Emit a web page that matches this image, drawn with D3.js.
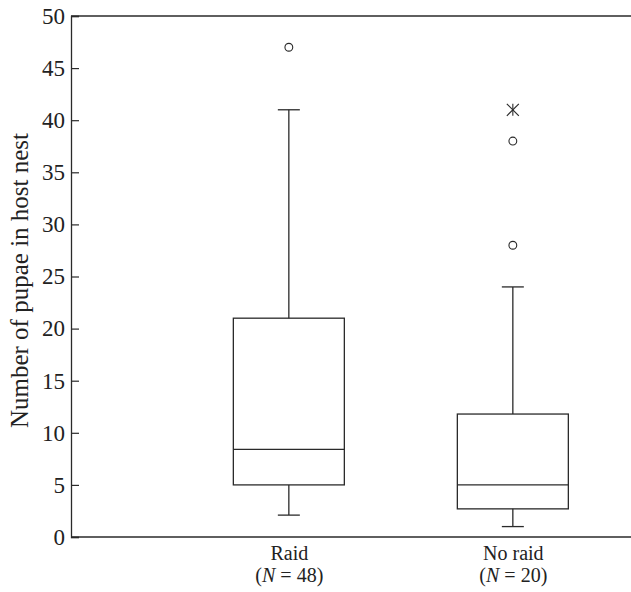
<!DOCTYPE html>
<html>
<head>
<meta charset="utf-8">
<script src="https://cdn.jsdelivr.net/npm/d3@7"></script>
<style>
  body { margin: 0; background: #fff; }
  svg { display: block; }
  text { font-family: "Liberation Serif", "DejaVu Serif", serif; fill: #222; }
</style>
</head>
<body>
<div id="chart"></div>
<script>
// data
const categories = ['Raid', 'No raid'];
const sampleSizes = [48, 20];
const whiskerLow = [2.1, 1];
const q1 = [5, 2.7];
const median = [8.4, 5];
const q3 = [21, 11.8];
const whiskerHigh = [41, 24];
// outliers: circles are mild, stars are extreme
const outlierGroup = ['Raid', 'No raid', 'No raid', 'No raid'];
const outlierValue = [47, 28, 38, 41];
const outlierKind = ['circle', 'circle', 'circle', 'star'];
const yTicks = [0, 5, 10, 15, 20, 25, 30, 35, 40, 45, 50];

const WIDTH = 631;
const HEIGHT = 592;
const margin = { top: 16, right: 0, bottom: 55, left: 71 };
const innerWidth = WIDTH - margin.left - margin.right;
const innerHeight = HEIGHT - margin.top - margin.bottom;
const ink = '#2a2a2a';

const svg = d3
  .select('#chart')
  .append('svg')
  .attr('width', WIDTH)
  .attr('height', HEIGHT);

const g = svg
  .append('g')
  .attr('transform', `translate(${margin.left},${margin.top})`);

// scales
const scaleY = d3.scaleLinear().domain([0, 50]).range([innerHeight, 0]);
const scaleX = d3
  .scalePoint()
  .domain(categories)
  .range([innerWidth * 0.389, innerWidth * 0.789]);
const boxWidth = 111;
const capWidth = 22;

// frame line on top
g.append('line')
  .attr('x1', 0).attr('x2', innerWidth)
  .attr('y1', 0).attr('y2', 0)
  .attr('stroke', ink).attr('stroke-width', 1.3);

// y axis with inward ticks
const axisY = d3.axisLeft(scaleY).tickValues(yTicks).tickSize(-8).tickPadding(6);
const gy = g.append('g').call(axisY);
gy.select('.domain').attr('stroke', ink).attr('stroke-width', 1.3);
gy.selectAll('.tick line').attr('stroke', ink).attr('stroke-width', 1.2);
gy.selectAll('.tick text')
  .attr('font-size', 23)
  .attr('fill', '#222')
  .attr('font-family', '"Liberation Serif", serif');

// x axis: baseline only, two-line labels below
const axisX = d3.axisBottom(scaleX).tickSize(0);
const gx = g.append('g').attr('transform', `translate(0,${innerHeight})`).call(axisX);
gx.select('.domain')
  .attr('d', `M0,0H${innerWidth}`)
  .attr('stroke', ink).attr('stroke-width', 1.3);
gx.selectAll('.tick text').remove();
gx.selectAll('.tick').each(function (d, i) {
  const tick = d3.select(this);
  tick.append('text')
    .attr('text-anchor', 'middle')
    .attr('font-size', 20)
    .attr('y', 23)
    .text(d);
  const t2 = tick.append('text')
    .attr('text-anchor', 'middle')
    .attr('font-size', 20)
    .attr('y', 45);
  t2.append('tspan').text('(');
  t2.append('tspan').attr('font-style', 'italic').text('N');
  t2.append('tspan').text(` = ${sampleSizes[i]})`);
});

// y label
svg.append('text')
  .attr('transform', `translate(28,${margin.top + innerHeight / 2 + 4}) rotate(-90)`)
  .attr('text-anchor', 'middle')
  .attr('font-size', 25)
  .text('Number of pupae in host nest');

// boxes
const boxes = categories.map((c, i) => ({
  name: c,
  lo: whiskerLow[i], q1: q1[i], med: median[i], q3: q3[i], hi: whiskerHigh[i],
}));

const gb = g.selectAll('g.box').data(boxes).join('g').attr('class', 'box')
  .attr('transform', (d) => `translate(${scaleX(d.name)},0)`)
  .attr('stroke', ink).attr('stroke-width', 1.3).attr('fill', 'none');

// whiskers
gb.append('line')
  .attr('x1', 0).attr('x2', 0)
  .attr('y1', (d) => scaleY(d.hi)).attr('y2', (d) => scaleY(d.q3));
gb.append('line')
  .attr('x1', 0).attr('x2', 0)
  .attr('y1', (d) => scaleY(d.q1)).attr('y2', (d) => scaleY(d.lo));
gb.append('line')
  .attr('x1', -capWidth / 2).attr('x2', capWidth / 2)
  .attr('y1', (d) => scaleY(d.hi)).attr('y2', (d) => scaleY(d.hi));
gb.append('line')
  .attr('x1', -capWidth / 2).attr('x2', capWidth / 2)
  .attr('y1', (d) => scaleY(d.lo)).attr('y2', (d) => scaleY(d.lo));
// box
gb.append('rect')
  .attr('x', -boxWidth / 2).attr('width', boxWidth)
  .attr('y', (d) => scaleY(d.q3))
  .attr('height', (d) => scaleY(d.q1) - scaleY(d.q3));
// median
gb.append('line')
  .attr('x1', -boxWidth / 2).attr('x2', boxWidth / 2)
  .attr('y1', (d) => scaleY(d.med)).attr('y2', (d) => scaleY(d.med));

// outliers
const outliers = outlierValue.map((v, i) => ({ name: outlierGroup[i], v, kind: outlierKind[i] }));
const go = g.selectAll('g.outlier').data(outliers).join('g').attr('class', 'outlier')
  .attr('transform', (d) => `translate(${scaleX(d.name)},${scaleY(d.v)})`)
  .attr('stroke', ink).attr('stroke-width', 1.1).attr('fill', 'none');

go.filter((d) => d.kind === 'circle')
  .append('circle').attr('r', 3.9);

const star = go.filter((d) => d.kind === 'star');
const s = 6;
star.append('line').attr('x1', 0).attr('y1', -s).attr('x2', 0).attr('y2', s);
star.append('line').attr('x1', -s).attr('y1', -s).attr('x2', s).attr('y2', s);
star.append('line').attr('x1', -s).attr('y1', s).attr('x2', s).attr('y2', -s);
</script>
</body>
</html>
